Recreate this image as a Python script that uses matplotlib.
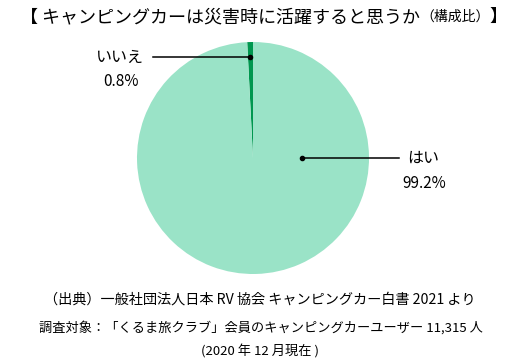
import matplotlib
matplotlib.use("Agg")
import matplotlib.pyplot as plt

plt.rcParams["font.family"] = ["Noto Sans CJK JP", "DejaVu Sans"]

labels = ["いいえ", "はい"]
shares = [0.8, 99.2]
colors = ["#00974f", "#9ae3c7"]

title = "【 キャンピングカーは災害時に活躍すると思うか"
title_small = "（構成比）"
source = "（出典）一般社団法人日本 RV 協会 キャンピングカー白書 2021 より"
target = "調査対象：「くるま旅クラブ」会員のキャンピングカーユーザー 11,315 人"
as_of = "(2020 年 12 月現在 )"

W, H = 520, 362
fig = plt.figure(figsize=(W / 100, H / 100), dpi=100)
ax = fig.add_axes([0, 0, 1, 1])

cx, cy, r = 253, H - 158, 116
ax.pie(shares, colors=colors, startangle=90, counterclock=True,
       center=(cx, cy), radius=r, frame=True,
       wedgeprops=dict(linewidth=0))
ax.set_xlim(0, W)
ax.set_ylim(0, H)
ax.set_aspect("equal")
ax.axis("off")

# leader lines
ax.plot([153, 250], [H - 57, H - 57], color="black", lw=1.1)
ax.plot(250, H - 57, "o", color="black", ms=3)
ax.text(120, H - 57, labels[0], ha="center", va="center", fontsize=11.5)
ax.text(121, H - 82, f"{shares[0]}%", ha="center", va="center", fontsize=11)

ax.plot([302, 399], [H - 158, H - 158], color="black", lw=1.1)
ax.plot(302, H - 158, "o", color="black", ms=3)
ax.text(423, H - 158, labels[1], ha="center", va="center", fontsize=11.5)
ax.text(424, H - 183, f"{shares[1]}%", ha="center", va="center", fontsize=11)

t = ax.text(20, H - 17, title, ha="left", va="center", fontsize=13)
t2 = ax.annotate(title_small, xy=(1, 0.5), xycoords=t, ha="left", va="center",
                 fontsize=10)
ax.annotate("】", xy=(1, 0.5), xycoords=t2, ha="left", va="center", fontsize=13)

ax.text(260, H - 300, source, ha="center", va="center", fontsize=10.2)
ax.text(261, H - 328, target, ha="center", va="center", fontsize=9.5)
ax.text(260, H - 352, as_of, ha="center", va="center", fontsize=9.5)

fig.savefig("out.png", dpi=100)
